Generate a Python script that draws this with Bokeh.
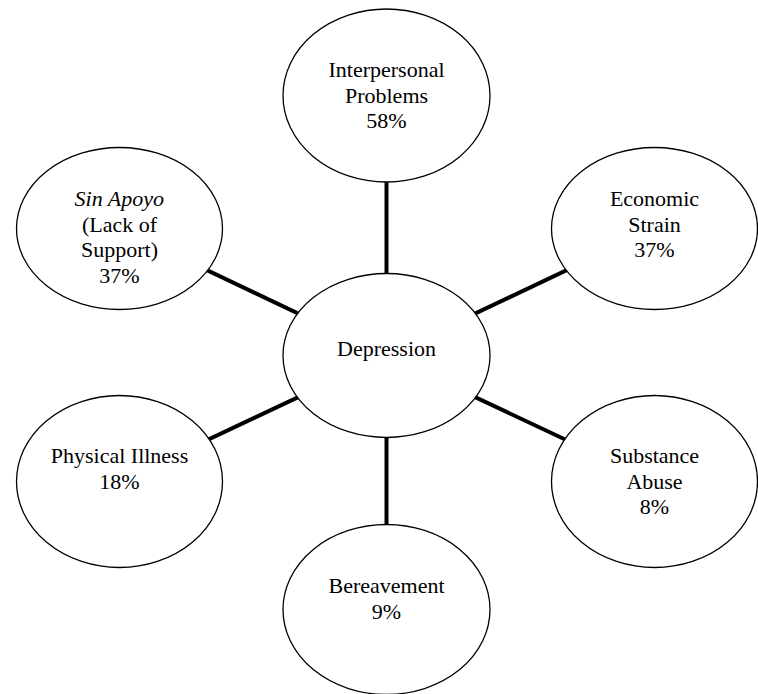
from bokeh.plotting import figure
from bokeh.models import Range1d
from bokeh.embed import file_html
from bokeh.resources import INLINE
from bokeh.core.properties import value

# ---- data ----
center_label = "Depression"
factor_names = ["Interpersonal\nProblems", "Sin Apoyo\n(Lack of\nSupport)", "Economic\nStrain",
                "Physical Illness", "Substance\nAbuse", "Bereavement"]
factor_pcts = [58, 37, 37, 18, 8, 9]
italic_first_line = [False, True, False, False, False, False]

# ---- layout (pixel-like coordinates) ----
center_xy = (386, 355)
center_wh = (207, 164)
node_x = [386, 119, 654, 119, 654, 386]
node_y = [95, 228, 228, 481, 481, 609]
node_w = [207, 206, 206, 206, 206, 207]
node_h = [173, 162, 162, 172, 172, 170]
first_baseline = [69, 198, 198, 455, 455, 585]
center_baseline = 348
line_gap = 25.7

FONT = value("Liberation Serif")

p = figure(width=758, height=694, output_backend="svg", toolbar_location=None,
           x_range=Range1d(0, 758), y_range=Range1d(694, 0), min_border=0)
p.axis.visible = False
p.grid.visible = False
p.outline_line_color = None
p.background_fill_color = "white"
p.border_fill_color = "white"

# connector lines (center to node), then ellipses cover the inner parts
xs = [[center_xy[0], nx] for nx in node_x]
ys = [[center_xy[1], ny] for ny in node_y]
p.multi_line(xs, ys, line_color="black", line_width=4)

p.ellipse(x=node_x, y=node_y, width=node_w, height=node_h,
          fill_color="white", line_color="black", line_width=1.3)
p.ellipse(x=[center_xy[0]], y=[center_xy[1]], width=[center_wh[0]], height=[center_wh[1]],
          fill_color="white", line_color="black", line_width=1.3)

# texts
tx, ty, tt, ts = [], [], [], []
for i, name in enumerate(factor_names):
    lines = name.split("\n") + [f"{factor_pcts[i]}%"]
    for j, ln in enumerate(lines):
        tx.append(node_x[i])
        ty.append(first_baseline[i] + j * line_gap)
        tt.append(ln)
        ts.append("italic" if (j == 0 and italic_first_line[i]) else "normal")

for style in ["normal", "italic"]:
    idx = [k for k in range(len(tt)) if ts[k] == style]
    p.text(x=[tx[k] for k in idx], y=[ty[k] for k in idx], text=[tt[k] for k in idx],
           text_font=FONT, text_font_size="22px", text_font_style=style,
           text_align="center", text_baseline="alphabetic", text_color="black")

p.text(x=[center_xy[0]], y=[center_baseline], text=[center_label],
       text_font=FONT, text_font_size="22px",
       text_align="center", text_baseline="alphabetic", text_color="black")

open("out.html", "w").write(file_html(p, INLINE))
